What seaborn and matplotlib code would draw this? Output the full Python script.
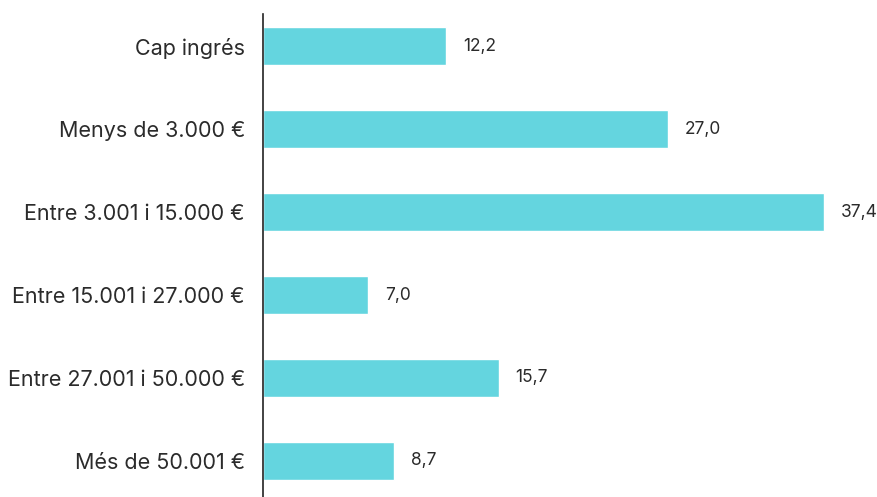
import seaborn as sns
import pandas as pd
from matplotlib import pyplot as plt

# data
categories = ['Cap ingrés', 'Menys de 3.000 €', 'Entre 3.001 i 15.000 €',
              'Entre 15.001 i 27.000 €', 'Entre 27.001 i 50.000 €', 'Més de 50.001 €']
values = [12.2, 27.0, 37.4, 7.0, 15.7, 8.7]

df = pd.DataFrame({'cat': categories, 'val': values})

sns.set_style('white')
plt.rcParams['font.family'] = ['Inter', 'DejaVu Sans']
text_color = '#2b2b2b'

fig = plt.figure(figsize=(8.77, 4.97), dpi=100)
ax = fig.add_axes([263 / 877, 0, 614 / 877, 483 / 497])

sns.barplot(data=df, x='val', y='cat', color='#64d5df', saturation=1,
            width=0.46, ax=ax)

ax.set_xlim(0, 614 / 15.0)
ax.set_ylim(5.434, -0.386)

# value labels, comma decimal
for i, v in enumerate(values):
    ax.text(v + 17 / 15.0, i, f'{v:.1f}'.replace('.', ','), va='center', ha='left',
            fontsize=12.5, color=text_color)

ax.set_xlabel('')
ax.set_ylabel('')
ax.set_xticks([])
ax.tick_params(axis='y', length=0, pad=13, labelsize=15.5, labelcolor=text_color)
for s in ['top', 'right', 'bottom']:
    ax.spines[s].set_visible(False)
ax.spines['left'].set_color('#222222')
ax.spines['left'].set_linewidth(1.2)

fig.savefig('out.png', dpi=100)
